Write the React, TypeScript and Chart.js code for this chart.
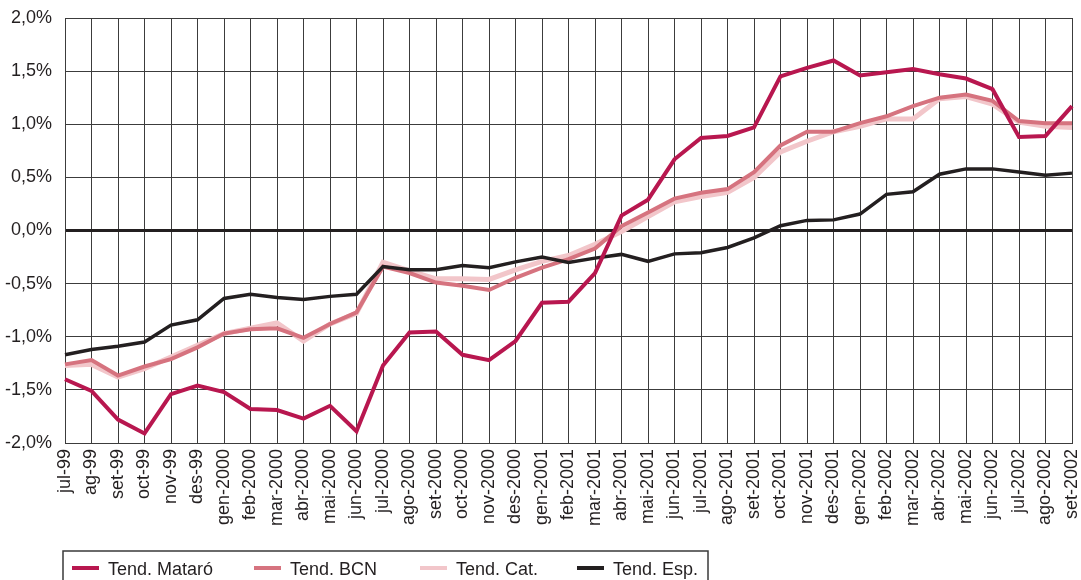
import React, { useEffect, useRef } from "react";
import { Chart, registerables } from "chart.js";

Chart.register(...registerables);

const months = [
  "jul-99", "ag-99", "set-99", "oct-99", "nov-99", "des-99",
  "gen-2000", "feb-2000", "mar-2000", "abr-2000", "mai-2000", "jun-2000",
  "jul-2000", "ago-2000", "set-2000", "oct-2000", "nov-2000", "des-2000",
  "gen-2001", "feb-2001", "mar-2001", "abr-2001", "mai-2001", "jun-2001",
  "jul-2001", "ago-2001", "set-2001", "oct-2001", "nov-2001", "des-2001",
  "gen-2002", "feb-2002", "mar-2002", "abr-2002", "mai-2002", "jun-2002",
  "jul-2002", "ago-2002", "set-2002",
];

const tendMataro = [
  -1.40, -1.51, -1.78, -1.91, -1.54, -1.46, -1.52, -1.68, -1.69, -1.77, -1.65, -1.89,
  -1.27, -0.96, -0.95, -1.17, -1.22, -1.04, -0.68, -0.67, -0.40, 0.14, 0.29, 0.67,
  0.87, 0.89, 0.97, 1.45, 1.53, 1.60, 1.46, 1.49, 1.52, 1.47, 1.43, 1.33,
  0.88, 0.89, 1.17,
];

const tendBCN = [
  -1.26, -1.22, -1.365, -1.28, -1.21, -1.10, -0.97, -0.93, -0.92, -1.01, -0.88, -0.77,
  -0.34, -0.40, -0.49, -0.52, -0.56, -0.445, -0.35, -0.27, -0.17, 0.04, 0.17, 0.30,
  0.355, 0.39, 0.55, 0.80, 0.93, 0.93, 1.01, 1.075, 1.17, 1.25, 1.28, 1.22,
  1.03, 1.01, 1.01,
];

const tendCat = [
  -1.27, -1.26, -1.38, -1.30, -1.19, -1.08, -0.97, -0.92, -0.87, -1.04, -0.88, -0.78,
  -0.30, -0.38, -0.455, -0.455, -0.46, -0.37, -0.29, -0.235, -0.13, -0.01, 0.13, 0.27,
  0.32, 0.36, 0.50, 0.74, 0.84, 0.93, 0.98, 1.05, 1.05, 1.24, 1.26, 1.19,
  1.02, 0.98, 0.97,
];

const tendEsp = [
  -1.17, -1.12, -1.09, -1.05, -0.89, -0.84, -0.64, -0.60, -0.63, -0.65, -0.62, -0.60,
  -0.34, -0.37, -0.37, -0.33, -0.35, -0.295, -0.25, -0.30, -0.26, -0.225, -0.29, -0.22,
  -0.21, -0.16, -0.07, 0.045, 0.095, 0.10, 0.155, 0.34, 0.365, 0.53, 0.58, 0.58,
  0.55, 0.52, 0.54,
];

const seriesNames = ["Tend. Mataró", "Tend. BCN", "Tend. Cat.", "Tend. Esp."];
const seriesColors = ["#b8174f", "#d6737f", "#f2c6ca", "#231f20"];

const FONT = '"Liberation Sans", Arial, sans-serif';
const TEXT = "#231f20";
const GRID = "#3c3c3c";

const legendSampleX = [72, 254, 420, 577];

const boxLegend = {
  id: "boxLegend",
  afterDraw(chart: any) {
    const ctx = chart.ctx;
    const left = 63;
    const top = 551;
    const right = 708;
    ctx.save();
    ctx.strokeStyle = "#3a3a3a";
    ctx.lineWidth = 1.5;
    ctx.strokeRect(left, top, right - left, 60);
    ctx.font = `18px ${FONT}`;
    ctx.textBaseline = "middle";
    ctx.textAlign = "left";
    chart.data.datasets.forEach((ds: any, i: number) => {
      const x = legendSampleX[i];
      ctx.strokeStyle = ds.borderColor;
      ctx.lineWidth = 4;
      ctx.beginPath();
      ctx.moveTo(x, 568);
      ctx.lineTo(x + 27, 568);
      ctx.stroke();
      ctx.fillStyle = TEXT;
      ctx.fillText(ds.label, x + 36, 570);
    });
    ctx.restore();
  },
};

export default function App() {
  const ref = useRef<HTMLCanvasElement | null>(null);

  useEffect(() => {
    if (!ref.current) return;
    const values = [tendMataro, tendBCN, tendCat, tendEsp];
    const widths = [4, 4, 5, 3.5];
    const orders = [0, 2, 3, 1];
    const chart = new Chart(ref.current, {
      type: "line",
      data: {
        labels: months,
        datasets: values.map((v, i) => ({
          label: seriesNames[i],
          data: v,
          borderColor: seriesColors[i],
          backgroundColor: seriesColors[i],
          borderWidth: widths[i],
          pointRadius: 0,
          tension: 0,
          borderJoinStyle: "miter" as const,
          order: orders[i],
          fill: false,
        })),
      },
      options: {
        responsive: false,
        animation: false,
        layout: { padding: { left: 0, top: 18, right: 9, bottom: 0 } },
        plugins: {
          legend: { display: false },
          tooltip: { enabled: false },
        },
        scales: {
          x: {
            type: "category",
            offset: false,
            grid: {
              offset: false,
              drawTicks: false,
              color: GRID,
              lineWidth: 1,
            },
            border: { display: true, color: GRID, width: 1 },
            ticks: {
              autoSkip: false,
              maxRotation: 90,
              minRotation: 90,
              padding: 6,
              color: TEXT,
              font: { family: FONT, size: 18 },
            },
            afterFit: (scale: any) => {
              scale.height = 137;
              scale.paddingLeft = 0;
              scale.paddingRight = 0;
            },
          },
          y: {
            min: -2,
            max: 2,
            grid: {
              drawTicks: false,
              color: (c: any) => (c.tick && c.tick.value === 0 ? "#231f20" : GRID),
              lineWidth: (c: any) => (c.tick && c.tick.value === 0 ? 3 : 1),
            },
            border: { display: true, color: GRID, width: 1 },
            ticks: {
              stepSize: 0.5,
              padding: 13,
              color: TEXT,
              font: { family: FONT, size: 18 },
              callback: (v: any) => Number(v).toFixed(1).replace(".", ",") + "%",
            },
            afterFit: (scale: any) => {
              scale.width = 65;
              scale.paddingTop = 0;
              scale.paddingBottom = 0;
            },
          },
        },
      },
      plugins: [boxLegend],
    });
    return () => chart.destroy();
  }, []);

  return (
    <div style={{ position: "fixed", left: 0, top: 0, width: 1081, height: 580, background: "#fff" }}>
      <canvas ref={ref} width={1081} height={580} />
    </div>
  );
}
